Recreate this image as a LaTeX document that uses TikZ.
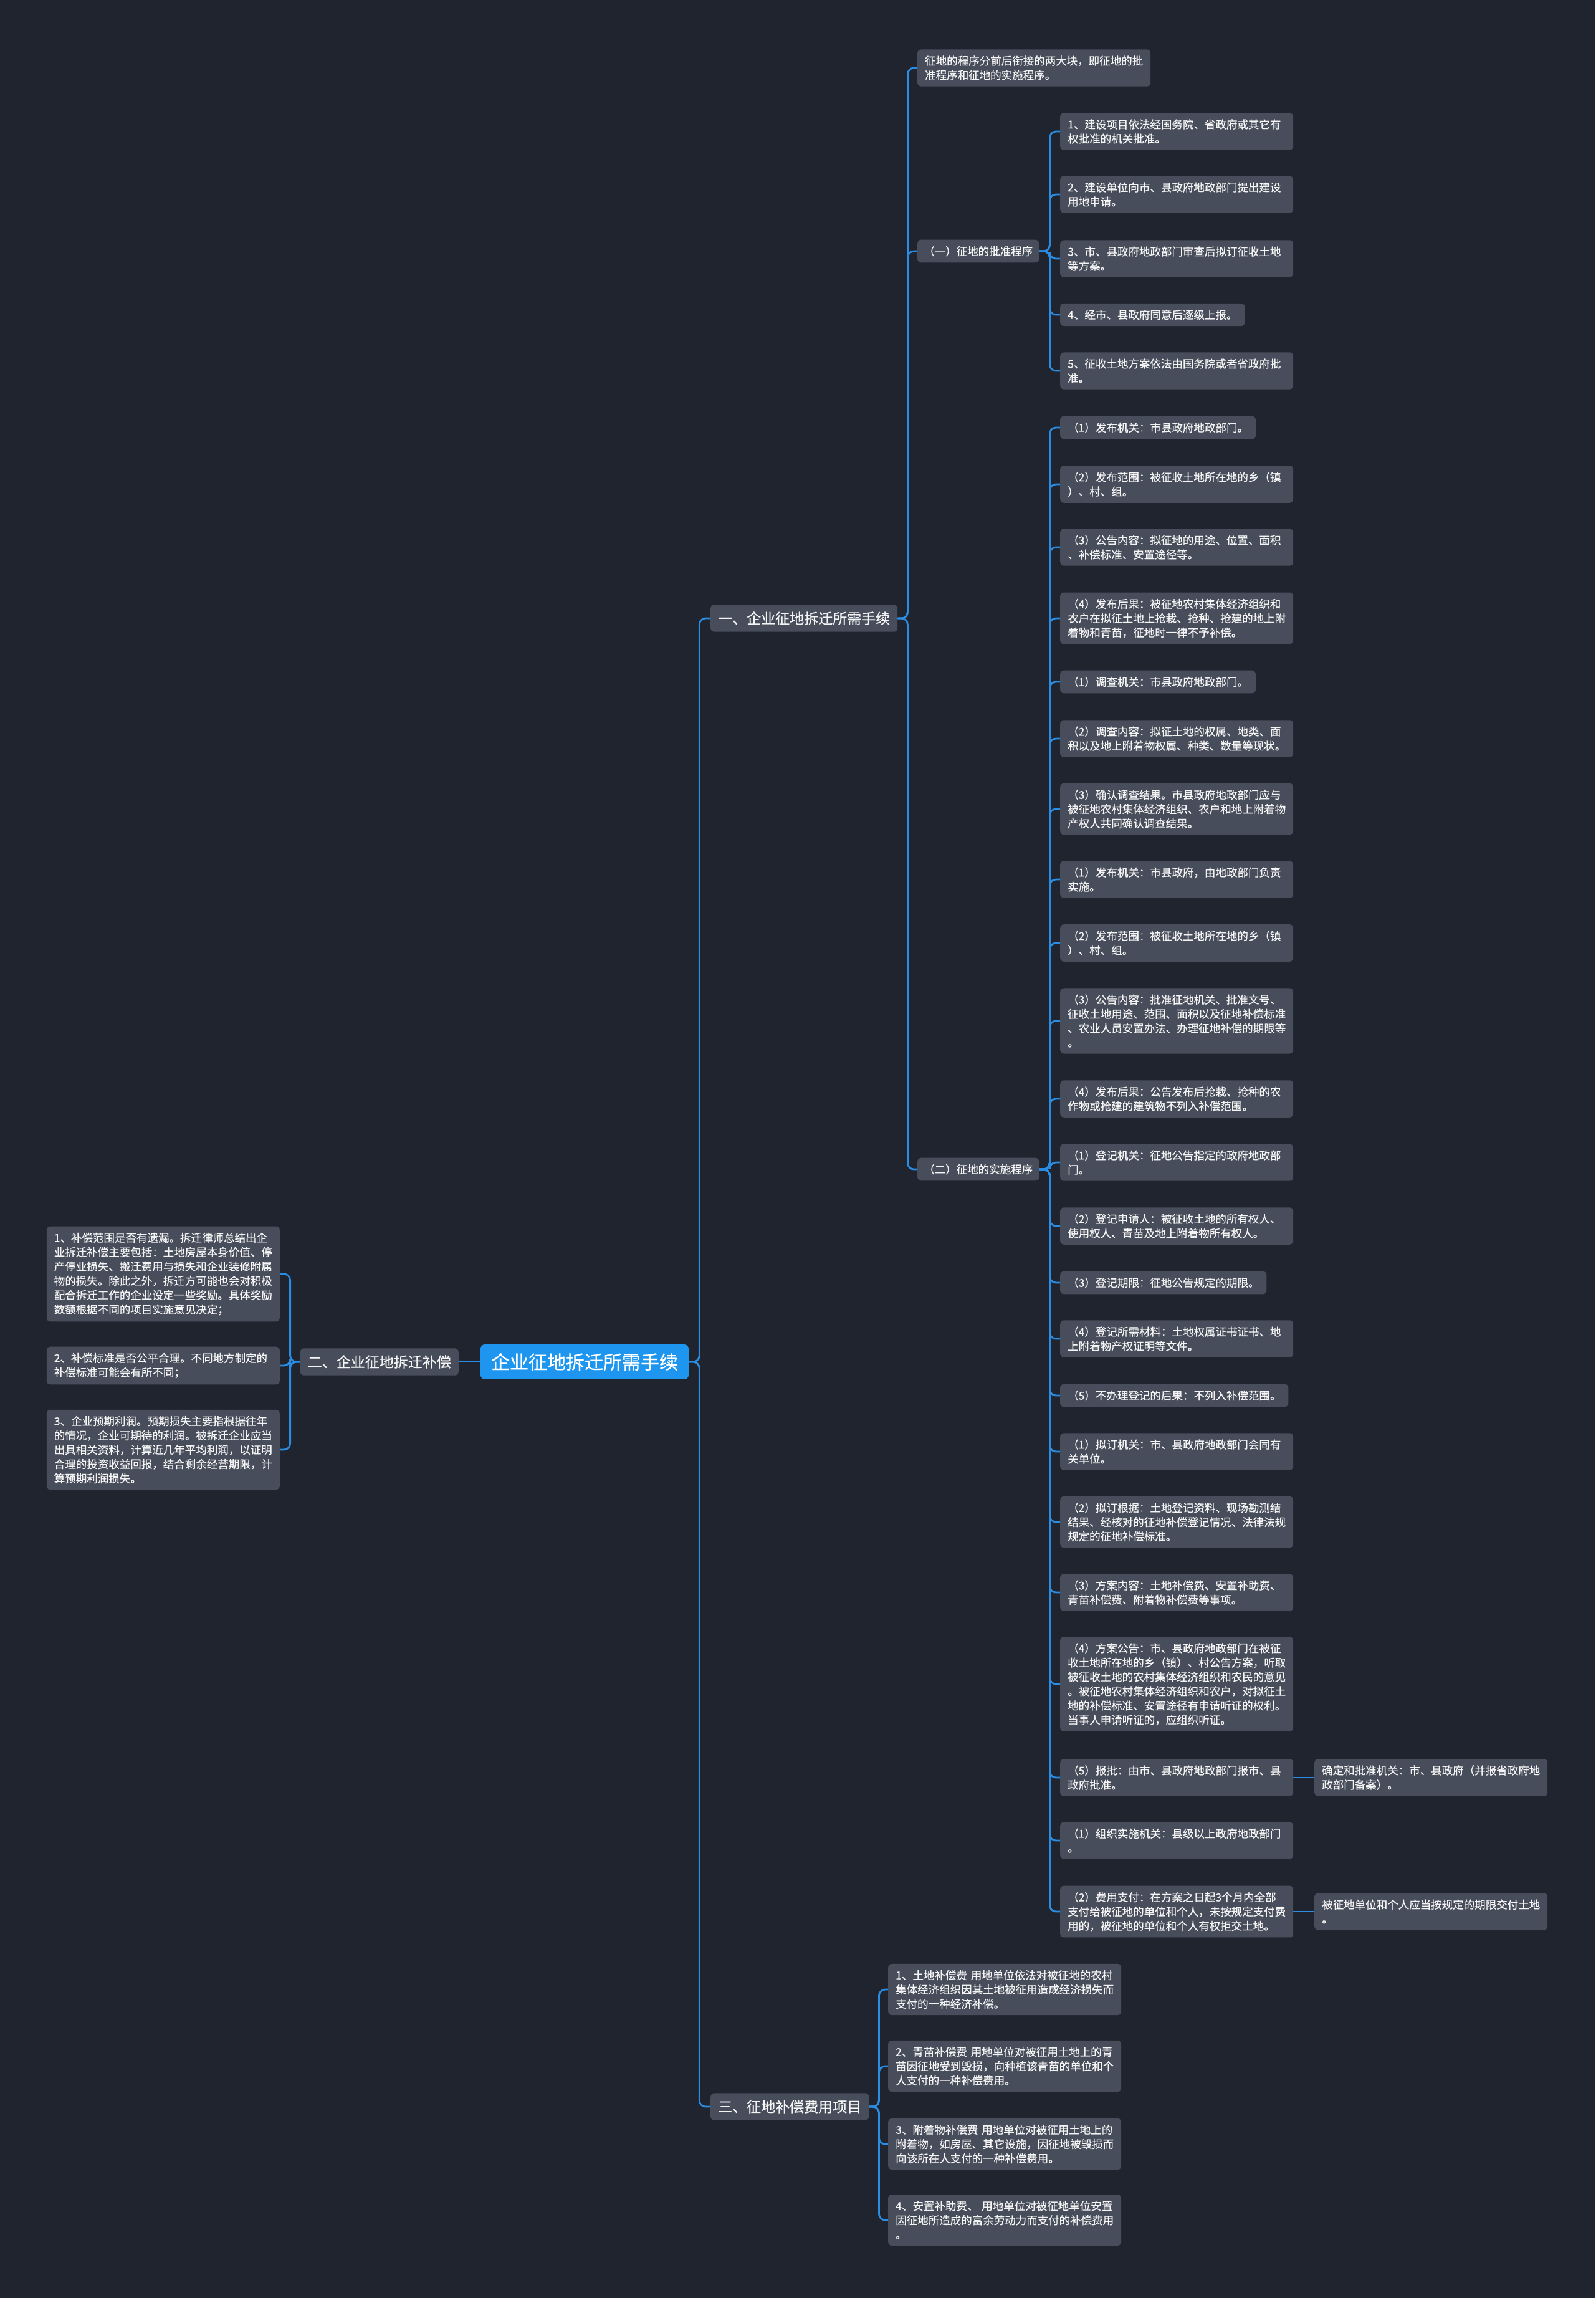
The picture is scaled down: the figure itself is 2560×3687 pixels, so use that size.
\documentclass[tikz,border=0pt]{standalone}
\usepackage{fontspec}
\setmainfont{Noto Sans CJK SC}[FakeBold=0.5]
\usepackage{tikz}

\definecolor{bgdark}{HTML}{20242F}
\definecolor{boxgray}{HTML}{474D5B}
\definecolor{rootblue}{HTML}{1E96EF}
\definecolor{linkblue}{HTML}{2A8DE4}
\definecolor{txtwhite}{HTML}{F4F4F4}

\begin{document}
\begin{tikzpicture}[x=1pt, y=-1pt,
  leaf/.style={fill=boxgray, rounded corners=6pt, text=txtwhite, align=left,
    inner xsep=12pt, inner ysep=10pt, font=\fontsize{17.5}{23}\selectfont, anchor=west},
  wide/.style={leaf, text width=350pt},
  branch/.style={leaf, inner xsep=12pt, inner ysep=11pt, font=\fontsize{23}{28}\selectfont},
  rootnode/.style={fill=rootblue, rounded corners=7pt, text=white,
    inner xsep=17pt, inner ysep=14pt, font=\fontsize{30}{36}\selectfont},
  link/.style={draw=linkblue, line width=2.8pt, rounded corners=10pt}]

\fill[bgdark] (0,0) rectangle (2560,3687);
\useasboundingbox (0,0) rectangle (2560,3687);

\node[rootnode] (root) at (938,2185) {企业征地拆迁所需手续};
\node[branch] (one) at (1140,992) {一、企业征地拆迁所需手续};
\node[branch, anchor=east] (two) at (736,2185) {二、企业征地拆迁补偿};
\node[branch] (three) at (1140,3380) {三、征地补偿费用项目};

% 一
\node[wide] (intro) at (1472,109) {征地的程序分前后衔接的两大块，即征地的批\\准程序和征地的实施程序。};
\node[leaf, inner xsep=10pt] (pz) at (1472,403) {（一）征地的批准程序};
\node[leaf, inner xsep=10pt] (ss) at (1472,1876) {（二）征地的实施程序};

\node[wide] (c1) at (1701,211) {1、建设项目依法经国务院、省政府或其它有\\权批准的机关批准。};
\node[wide] (c2) at (1701,312) {2、建设单位向市、县政府地政部门提出建设\\用地申请。};
\node[wide] (c3) at (1701,415) {3、市、县政府地政部门审查后拟订征收土地\\等方案。};
\node[leaf] (c4) at (1701,505) {4、经市、县政府同意后逐级上报。};
\node[wide] (c5) at (1701,595) {5、征收土地方案依法由国务院或者省政府批\\准。};

\node[leaf] (d1) at (1701,686) {（1）发布机关：市县政府地政部门。};
\node[wide] (d2) at (1701,777) {（2）发布范围：被征收土地所在地的乡（镇\\）、村、组。};
\node[wide] (d3) at (1701,878) {（3）公告内容：拟征地的用途、位置、面积\\、补偿标准、安置途径等。};
\node[wide] (d4) at (1701,992) {（4）发布后果：被征地农村集体经济组织和\\农户在拟征土地上抢栽、抢种、抢建的地上附\\着物和青苗，征地时一律不予补偿。};
\node[leaf] (d5) at (1701,1094) {（1）调查机关：市县政府地政部门。};
\node[wide] (d6) at (1701,1185) {（2）调查内容：拟征土地的权属、地类、面\\积以及地上附着物权属、种类、数量等现状。};
\node[wide] (d7) at (1701,1298) {（3）确认调查结果。市县政府地政部门应与\\被征地农村集体经济组织、农户和地上附着物\\产权人共同确认调查结果。};
\node[wide] (d8) at (1701,1411) {（1）发布机关：市县政府，由地政部门负责\\实施。};
\node[wide] (d9) at (1701,1513) {（2）发布范围：被征收土地所在地的乡（镇\\）、村、组。};
\node[wide] (d10) at (1701,1638) {（3）公告内容：批准征地机关、批准文号、\\征收土地用途、范围、面积以及征地补偿标准\\、农业人员安置办法、办理征地补偿的期限等\\。};
\node[wide] (d11) at (1701,1763) {（4）发布后果：公告发布后抢栽、抢种的农\\作物或抢建的建筑物不列入补偿范围。};
\node[wide] (e1) at (1701,1865) {（1）登记机关：征地公告指定的政府地政部\\门。};
\node[wide] (e2) at (1701,1967) {（2）登记申请人：被征收土地的所有权人、\\使用权人、青苗及地上附着物所有权人。};
\node[leaf] (e3) at (1701,2058) {（3）登记期限：征地公告规定的期限。};
\node[wide] (e4) at (1701,2148) {（4）登记所需材料：土地权属证书证书、地\\上附着物产权证明等文件。};
\node[leaf] (e5) at (1701,2239) {（5）不办理登记的后果：不列入补偿范围。};
\node[wide] (e6) at (1701,2329) {（1）拟订机关：市、县政府地政部门会同有\\关单位。};
\node[wide] (e7) at (1701,2442) {（2）拟订根据：土地登记资料、现场勘测结\\结果、经核对的征地补偿登记情况、法律法规\\规定的征地补偿标准。};
\node[wide] (e8) at (1701,2555) {（3）方案内容：土地补偿费、安置补助费、\\青苗补偿费、附着物补偿费等事项。};
\node[wide] (e9) at (1701,2702) {（4）方案公告：市、县政府地政部门在被征\\收土地所在地的乡（镇）、村公告方案，听取\\被征收土地的农村集体经济组织和农民的意见\\。被征地农村集体经济组织和农户，对拟征土\\地的补偿标准、安置途径有申请听证的权利。\\当事人申请听证的，应组织听证。};
\node[wide] (e10) at (1701,2852) {（5）报批：由市、县政府地政部门报市、县\\政府批准。};
\node[wide] (e11) at (1701,2953) {（1）组织实施机关：县级以上政府地政部门\\。};
\node[wide] (e12) at (1701,3067) {（2）费用支付：在方案之日起3个月内全部\\支付给被征地的单位和个人，未按规定支付费\\用的，被征地的单位和个人有权拒交土地。};
\node[wide] (e10b) at (2109,2852) {确定和批准机关：市、县政府（并报省政府地\\政部门备案）。};
\node[wide] (e12b) at (2109,3067) {被征地单位和个人应当按规定的期限交付土地\\。};

% 二
\node[wide, anchor=east] (g1) at (449,2044) {1、补偿范围是否有遗漏。拆迁律师总结出企\\业拆迁补偿主要包括：土地房屋本身价值、停\\产停业损失、搬迁费用与损失和企业装修附属\\物的损失。除此之外，拆迁方可能也会对积极\\配合拆迁工作的企业设定一些奖励。具体奖励\\数额根据不同的项目实施意见决定；};
\node[wide, anchor=east] (g2) at (449,2191) {2、补偿标准是否公平合理。不同地方制定的\\补偿标准可能会有所不同；};
\node[wide, anchor=east] (g3) at (449,2326) {3、企业预期利润。预期损失主要指根据往年\\的情况，企业可期待的利润。被拆迁企业应当\\出具相关资料，计算近几年平均利润，以证明\\合理的投资收益回报，结合剩余经营期限，计\\算预期利润损失。};

% 三
\node[wide] (f1) at (1425,3192) {1、土地补偿费~用地单位依法对被征地的农村\\集体经济组织因其土地被征用造成经济损失而\\支付的一种经济补偿。};
\node[wide] (f2) at (1425,3315) {2、青苗补偿费~用地单位对被征用土地上的青\\苗因征地受到毁损，向种植该青苗的单位和个\\人支付的一种补偿费用。};
\node[wide] (f3) at (1425,3440) {3、附着物补偿费~用地单位对被征用土地上的\\附着物，如房屋、其它设施，因征地被毁损而\\向该所在人支付的一种补偿费用。};
\node[wide] (f4) at (1425,3562) {4、安置补助费、~用地单位对被征地单位安置\\因征地所造成的富余劳动力而支付的补偿费用\\。};

\draw[link] (root.west) -- (two.east);
\foreach \n in {one,three}
  \draw[link] (root.east) -- ++(17,0) |- (\n.west);
\foreach \n in {g1,g2,g3}
  \draw[link] (two.west) -- ++(-16,0) |- (\n.east);
\foreach \n in {intro,pz,ss}
  \draw[link] (one.east) -- ++(16,0) |- (\n.west);
\foreach \n in {c1,c2,c3,c4,c5}
  \draw[link] (pz.east) -- ++(17,0) |- (\n.west);
\foreach \n in {d1,d2,d3,d4,d5,d6,d7,d8,d9,d10,d11,e1,e2,e3,e4,e5,e6,e7,e8,e9,e10,e11,e12}
  \draw[link] (ss.east) -- ++(17,0) |- (\n.west);
\foreach \n in {f1,f2,f3,f4}
  \draw[link] (three.east) -- ++(16,0) |- (\n.west);
\draw[link] (e10.east) -- (e10b.west);
\draw[link] (e12.east) -- (e12b.west);
\end{tikzpicture}
\end{document}
